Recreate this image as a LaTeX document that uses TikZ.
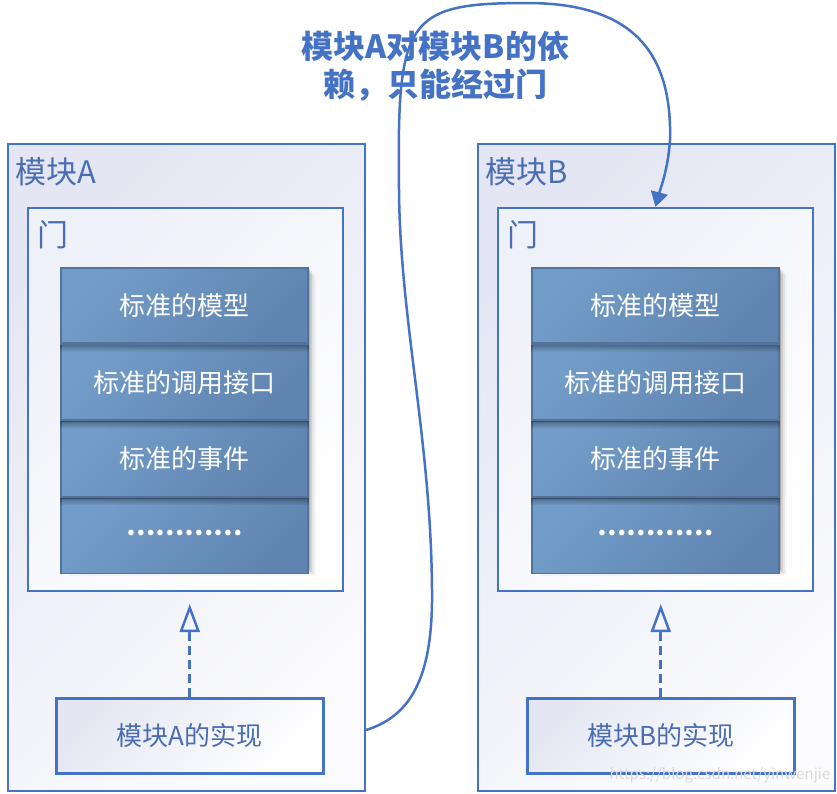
\documentclass[tikz,border=0pt]{standalone}
\usepackage{fontspec}
\setmainfont{Noto Sans CJK SC}
\usetikzlibrary{arrows.meta,fadings,calc,positioning}
\definecolor{ublue}{HTML}{4472C4}
\definecolor{lblue}{HTML}{4A6DB3}
\definecolor{rowlight}{HTML}{739DC9}
\definecolor{rowdark}{HTML}{5F84AF}
\definecolor{rowline}{HTML}{52739B}
\definecolor{boxtl}{HTML}{E4E7F3}
\definecolor{boxbr}{HTML}{FBFBFD}
\tikzset{
  outerbox/.style={draw=ublue, line width=2pt, top color=boxtl, bottom color=boxbr, shading angle=45,
    anchor=north west, inner sep=0pt, minimum width=357pt, minimum height=647pt},
  gatebox/.style={draw=ublue, line width=2pt, top color=boxtl!60!white, bottom color=white, shading angle=45,
    anchor=north west, inner sep=0pt, minimum width=315pt, minimum height=383pt},
  rowbox/.style={draw=rowline, line width=1.5pt, top color=rowlight, bottom color=rowdark, shading angle=45,
    inner sep=0pt, minimum width=247pt, minimum height=75.25pt, text=white,
    font=\fontsize{26}{30}\selectfont},
  implbox/.style={draw=ublue, line width=2.5pt, top color=boxtl, bottom color=white, shading angle=45,
    inner sep=0pt, minimum width=267pt, minimum height=75pt, text=lblue,
    font=\fontsize{26}{30}\selectfont},
  boxlabel/.style={anchor=west, inner sep=0pt, text=lblue, font=\fontsize{31}{35}\selectfont},
  realize/.style={draw=ublue, line width=3pt, dash pattern=on 9pt off 5pt,
    -{Triangle[open, length=28pt, width=20pt, line width=2.5pt]}, shorten >=12pt},
  depend/.style={draw=ublue, line width=2.5pt, -{Triangle[length=15pt, width=17pt]}},
  rowshade/.style={fill=black, opacity=0.35, path fading=south},
}
\begin{document}
\begin{tikzpicture}[x=1pt,y=-1pt]
\useasboundingbox (0,0) rectangle (837,793);

% ---------- module A ----------
\node[outerbox] (outerA) at (7,143) {};
\node[boxlabel] (labA) at (15,172) {模块A};
\node[gatebox] (gateA) at (27,207) {};
\node[boxlabel] (doorA) at (37,235) {门};
\foreach \o/\a in {2/0.16,4/0.10,6/0.06,8/0.03}{
  \fill[black, opacity=\a] (61+\o,267+\o) rectangle (308+\o,568+\o);
}
\node[rowbox, anchor=north] (a1) at (184.5,267) {标准的模型};
\node[rowbox, anchor=north] (a2) at (a1.south) {标准的调用接口};
\node[rowbox, anchor=north] (a3) at (a2.south) {标准的事件};
\node[rowbox, anchor=north] (a4) at (a3.south) {\raisebox{5pt}{\bfseries …………}};
\foreach \r in {a2,a3,a4}{
  \fill[rowshade] (\r.north west) rectangle ($(\r.north east)+(0,8)$);
  \draw[rowline, line width=1.5pt] (\r.north west) -- (\r.north east);
}
\node[implbox, anchor=north west] (implA) at (55,697) {模块A的实现};
\draw[realize] (implA.north) -- (implA.north |- gateA.south);

% ---------- module B ----------
\node[outerbox] (outerB) at (477,143) {};
\node[boxlabel] (labB) at (485,172) {模块B};
\node[gatebox] (gateB) at (497,207) {};
\node[boxlabel] (doorB) at (507,235) {门};
\foreach \o/\a in {2/0.16,4/0.10,6/0.06,8/0.03}{
  \fill[black, opacity=\a] (532+\o,267+\o) rectangle (779+\o,568+\o);
}
\node[rowbox, anchor=north] (b1) at (655.5,267) {标准的模型};
\node[rowbox, anchor=north] (b2) at (b1.south) {标准的调用接口};
\node[rowbox, anchor=north] (b3) at (b2.south) {标准的事件};
\node[rowbox, anchor=north] (b4) at (b3.south) {\raisebox{5pt}{\bfseries …………}};
\foreach \r in {b2,b3,b4}{
  \fill[rowshade] (\r.north west) rectangle ($(\r.north east)+(0,8)$);
  \draw[rowline, line width=1.5pt] (\r.north west) -- (\r.north east);
}
\node[implbox, anchor=north west] (implB) at (526,697) {模块B的实现};
\draw[realize] (implB.north) -- (implB.north |- gateB.south);

% ---------- dependency ----------
\node[text=ublue, align=center, font=\fontsize{32}{38}\selectfont\bfseries] (title) at (435.5,66)
  {模块A对模块B的依\\赖，只能经过门};
\coordinate (start) at (outerA.east |- 0,730);
\draw[depend] (start) .. controls (415,715) and (433,670) .. (432,590)
  .. controls (431,440) and (400,320) .. (399,190)
  .. controls (397,20) and (405,3) .. (527,3)
  .. controls (640,3) and (672,60) .. (670,140)
  .. controls (668,170) and (660,190) .. (gateB.north);

% ---------- watermark ----------
\node[text=gray!30, font=\fontsize{15}{17}\selectfont, inner sep=0pt] (wm) at (720,775) {https://blog.csdn.net/yinwenjie};
\end{tikzpicture}
\end{document}
